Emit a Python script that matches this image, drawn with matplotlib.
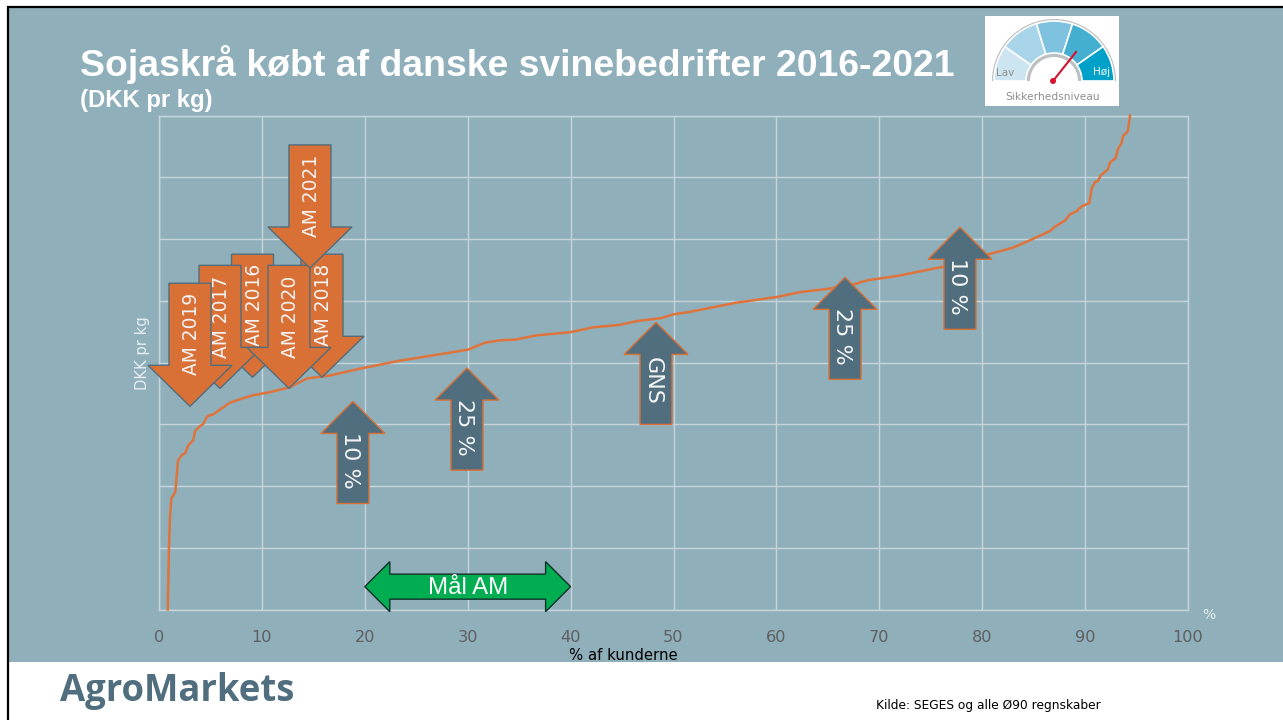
import matplotlib
matplotlib.use("Agg")
import matplotlib.pyplot as plt
from matplotlib.patches import Polygon, Rectangle, Wedge, Circle

# ============================================================
# Data (y in grid steps - the chart has no y labels)
# ============================================================

curve_x = [0.85, 0.97, 1.07, 1.20, 1.58, 1.85, 2.21, 2.53, 2.85, 3.33, 3.50, 3.98, 4.28, 4.69,
           5.28, 6.03, 6.90, 8.16, 9.14, 10.79, 12.73, 14.35, 16.62, 19.53, 23.10, 26.02, 28.28,
           30.06, 31.68, 33.14, 34.60, 36.71, 39.94, 42.21, 44.80, 46.42, 48.85, 49.98, 51.60,
           56.14, 60.03, 62.29, 64.89, 67.44, 68.77, 71.69, 76.19, 80.56, 82.99, 84.65, 86.59,
           87.07, 88.05, 88.53, 89.18, 89.67, 90.41, 90.64, 90.96, 91.25, 91.52, 92.23,
           92.42, 92.97, 93.17, 93.56, 93.69, 94.14, 94.37]
curve_y = [0.0, 1.01, 1.50, 1.80, 1.90, 2.41, 2.50, 2.53, 2.66, 2.74, 2.89, 2.97, 3.00, 3.13,
           3.16, 3.25, 3.35, 3.42, 3.47, 3.52, 3.60, 3.74, 3.79, 3.90, 4.02, 4.10, 4.16,
           4.21, 4.32, 4.36, 4.37, 4.44, 4.49, 4.57, 4.61, 4.67, 4.72, 4.78, 4.82,
           4.97, 5.06, 5.14, 5.19, 5.26, 5.33, 5.40, 5.55, 5.75, 5.86, 5.98, 6.13,
           6.20, 6.30, 6.40, 6.45, 6.53, 6.58, 6.82, 6.92, 6.94, 7.03, 7.13,
           7.24, 7.31, 7.45, 7.56, 7.67, 7.74, 8.0]

# drawing order matters, the arrows overlap
am_labels = ["AM 2016", "AM 2018", "AM 2017", "AM 2020", "AM 2019", "AM 2021"]
am_x = [9.09, 15.84, 5.93, 12.63, 3.01, 14.67]
am_y = [3.76, 3.76, 3.58, 3.58, 3.29, 5.53]

up_labels = ["10 %", "25 %", "GNS", "25 %", "10 %"]
up_x = [18.85, 29.93, 48.3, 66.67, 77.84]
up_y = [3.37, 3.91, 4.65, 5.38, 6.19]

target_label = "Mål AM"
target_from = 20
target_to = 40
target_y = 0.37

x_ticks = [0, 10, 20, 30, 40, 50, 60, 70, 80, 90, 100]

# ============================================================
# Styles and helpers
# ============================================================

W, H = 1283, 720
BG = "#8fafbb"
GRID = "#c6d3d8"
ORANGE = "#d97036"
SLATE = "#506e7e"
PX_X = 10.29   # pixels per x unit
PX_Y = 61.7    # pixels per y unit


def box(l, t, r, b):
    return [l / W, 1 - b / H, (r - l) / W, (b - t) / H]


def down_arrow(ax, x, y, label, z):
    sw, hw = 21 / PX_X, 42 / PX_X
    hl, tl = 41 / PX_Y, 123 / PX_Y
    pts = [(x, y), (x - hw, y + hl), (x - sw, y + hl), (x - sw, y + tl),
           (x + sw, y + tl), (x + sw, y + hl), (x + hw, y + hl)]
    ax.add_patch(Polygon(pts, fc=ORANGE, ec=SLATE, lw=1, zorder=z, clip_on=False))
    ax.text(x + 0.15, y + 72 / PX_Y, label, rotation=90, ha="center", va="center", color="#f4f4f4",
            fontsize=13.4, zorder=z + 0.5)


def up_arrow(ax, x, y, label, z):
    sw, hw = 16 / PX_X, 32 / PX_X
    hl, tl = 32 / PX_Y, 102 / PX_Y
    pts = [(x, y), (x - hw, y - hl), (x - sw, y - hl), (x - sw, y - tl),
           (x + sw, y - tl), (x + sw, y - hl), (x + hw, y - hl)]
    ax.add_patch(Polygon(pts, fc=SLATE, ec=ORANGE, lw=1, zorder=z, clip_on=False))
    ax.text(x - 0.3, y - 59 / PX_Y, label, rotation=270, ha="center", va="center", color="#f4f4f4",
            fontsize=16, zorder=z + 0.5)


# ============================================================
# Slide background
# ============================================================

fig = plt.figure(figsize=(W / 100, H / 100), dpi=100, facecolor="white")

bg = fig.add_axes([0, 0, 1, 1], zorder=0)
bg.set_xlim(0, W)
bg.set_ylim(H, 0)
bg.axis("off")
bg.add_patch(Rectangle((8, 7), W - 8, 655, fc=BG, ec="none"))
bg.plot([8, 8], [6, H], color="black", lw=1.6, solid_capstyle="butt")
bg.plot([7, W], [7, 7], color="black", lw=1.6, solid_capstyle="butt")

bg.text(80, 64, "Sojaskrå købt af danske svinebedrifter 2016-2021", color="white",
        family="Liberation Sans", weight="bold", fontsize=26.9, va="center")
bg.text(80, 101, "(DKK pr kg)", color="white", family="Liberation Sans", weight="bold",
        fontsize=17.2, va="center")
bg.text(60, 691, "AgroMarkets", color=SLATE, family="Open Sans", weight="bold", fontsize=26.3,
        va="center")
bg.text(876, 706, "Kilde: SEGES og alle Ø90 regnskaber", color="black", fontsize=8.85, va="center")
bg.text(623, 655, "% af kunderne", color="black", fontsize=10.7, ha="center", va="center")
bg.text(142, 353, "DKK pr kg", color="#e8eef0", fontsize=10.6, rotation=90, ha="center", va="center")
bg.text(1209, 615, "%", color="#e8eef0", fontsize=10, ha="center", va="center")

# ============================================================
# Chart
# ============================================================

ax = fig.add_axes(box(159, 115.5, 1188, 609.5), zorder=1)
ax.patch.set_alpha(0)
ax.set_xlim(0, 100)
ax.set_ylim(0, 8)
ax.set_xticks(x_ticks)
ax.set_yticks(range(9))
ax.set_yticklabels([])
ax.grid(True, color=GRID, lw=1.05)
ax.tick_params(length=0, labelsize=11.6, labelcolor="#5f5f5f", pad=15)
for s in ax.spines.values():
    s.set_color(GRID)
    s.set_linewidth(1.05)
ax.set_axisbelow(True)

ax.plot(curve_x, curve_y, color="#e0733a", lw=1.8, zorder=3, clip_on=False)

z = 4
for lab, x, y in zip(am_labels, am_x, am_y):
    down_arrow(ax, x, y, lab, z)
    z += 1
for lab, x, y in zip(up_labels, up_x, up_y):
    up_arrow(ax, x, y, lab, z)
    z += 1

# target range, double headed green arrow
hl = 25 / PX_X
hh, sh = 25 / PX_Y, 12.5 / PX_Y
pts = [(target_from, target_y), (target_from + hl, target_y + hh), (target_from + hl, target_y + sh),
       (target_to - hl, target_y + sh), (target_to - hl, target_y + hh), (target_to, target_y),
       (target_to - hl, target_y - hh), (target_to - hl, target_y - sh),
       (target_from + hl, target_y - sh), (target_from + hl, target_y - hh)]
ax.add_patch(Polygon(pts, fc="#00ad50", ec="#10302a", lw=1, zorder=z, clip_on=False))
ax.text((target_from + target_to) / 2, target_y - 0.025, target_label, ha="center", va="center",
        color="white", family="Liberation Sans", fontsize=17.3, zorder=z + 0.5)

# ============================================================
# Safety gauge logo
# ============================================================

g = fig.add_axes(box(985, 16, 1119, 106), zorder=2)
g.set_xlim(985, 1119)
g.set_ylim(-106, -16)
g.set_aspect("equal")
g.axis("off")
g.add_patch(Rectangle((985, -106), 134, 90, fc="white", ec="none"))

cx, cy = 1054, -81
g.add_patch(Wedge((cx, cy), 62, 0, 180, width=38, fc="#bcc0c2", ec="none"))
cols = ["#cde4f1", "#a8d5ea", "#7fc2e0", "#45afd2", "#00a1c8"]
angs = [180, 145, 107, 72, 35, 0]
for i, c in enumerate(cols):
    g.add_patch(Wedge((cx, cy), 60, angs[i + 1], angs[i], width=32, fc=c, ec="white", lw=1.2))
g.text(1005, -73, "Lav", color="#8f8f8f", fontsize=7.5, ha="center", va="center")
g.text(1102, -72, "Høj", color="white", fontsize=7.5, ha="center", va="center")
g.text(1053, -97, "Sikkerhedsniveau", color="#8f8f8f", fontsize=7.7, ha="center", va="center")
g.plot([1053, 1076], [-81, -52], color="#d5122f", lw=1.5)
g.add_patch(Circle((1053, -81), 3, fc="#d5122f", ec="none"))

fig.savefig("out.png", dpi=100)
